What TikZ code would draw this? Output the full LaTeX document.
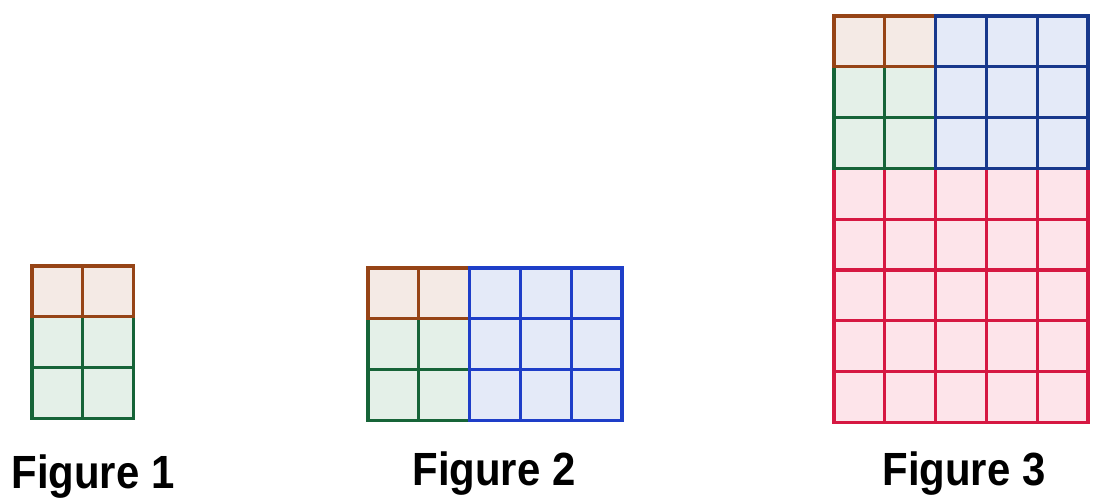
\documentclass[tikz,border=0pt]{standalone}
\usepackage{fontspec}
\setmainfont{Liberation Sans}
\usetikzlibrary{positioning}
\definecolor{brownline}{RGB}{150,68,22}
\definecolor{brownfill}{RGB}{244,234,229}
\definecolor{greenline}{RGB}{22,100,56}
\definecolor{greenfill}{RGB}{228,240,232}
\definecolor{blueline}{RGB}{30,62,200}
\definecolor{navyline}{RGB}{24,56,140}
\definecolor{bluefill}{RGB}{228,234,248}
\definecolor{redline}{RGB}{214,24,66}
\definecolor{redfill}{RGB}{253,228,234}
\newcommand{\cellblock}[5]{% x0, y0, cols, rows, style
  \foreach \i in {1,...,#3}
    \foreach \j in {1,...,#4}
      \draw[#5] ({#1+(\i-1)*50.8},{#2+(\j-1)*50.8}) rectangle ++(50.8,50.8);
}
\newcommand{\captext}[1]{\scalebox{0.9}[1]{#1}}
\begin{document}
\begin{tikzpicture}[x=0.02cm, y=-0.02cm]
\tikzstyle{brn}=[draw=brownline, fill=brownfill, line width=1.8pt]
\tikzstyle{grn}=[draw=greenline, fill=greenfill, line width=1.8pt]
\tikzstyle{blu}=[draw=blueline, fill=bluefill, line width=1.8pt]
\tikzstyle{nvy}=[draw=navyline, fill=bluefill, line width=1.8pt]
\tikzstyle{rd}=[draw=redline, fill=redfill, line width=1.8pt]
\tikzstyle{caption}=[font=\bfseries\fontsize{26.5}{30}\selectfont, anchor=base, inner sep=0pt]
\useasboundingbox (0,0) rectangle (1100,501);
% 1. Figure 1
%%%%%%%%%%%%%
\cellblock{32}{316.8}{2}{2}{grn}
\cellblock{32}{266}{2}{1}{brn}
\node[caption] (cap1) at (93,488) {\captext{Figure 1}};
% 2. Figure 2
%%%%%%%%%%%%%
\cellblock{368}{318.8}{2}{2}{grn}
\cellblock{368}{268}{2}{1}{brn}
\cellblock{469.6}{268}{3}{3}{blu}
\node[caption] (cap2) at (494,485) {\captext{Figure 2}};
% 3. Figure 3
%%%%%%%%%%%%%
\cellblock{834}{168.4}{5}{5}{rd}
\cellblock{834}{66.8}{2}{2}{grn}
\cellblock{834}{16}{2}{1}{brn}
\cellblock{935.6}{16}{3}{3}{nvy}
\node[caption] (cap3) at (964,485) {\captext{Figure 3}};
\end{tikzpicture}
\end{document}
